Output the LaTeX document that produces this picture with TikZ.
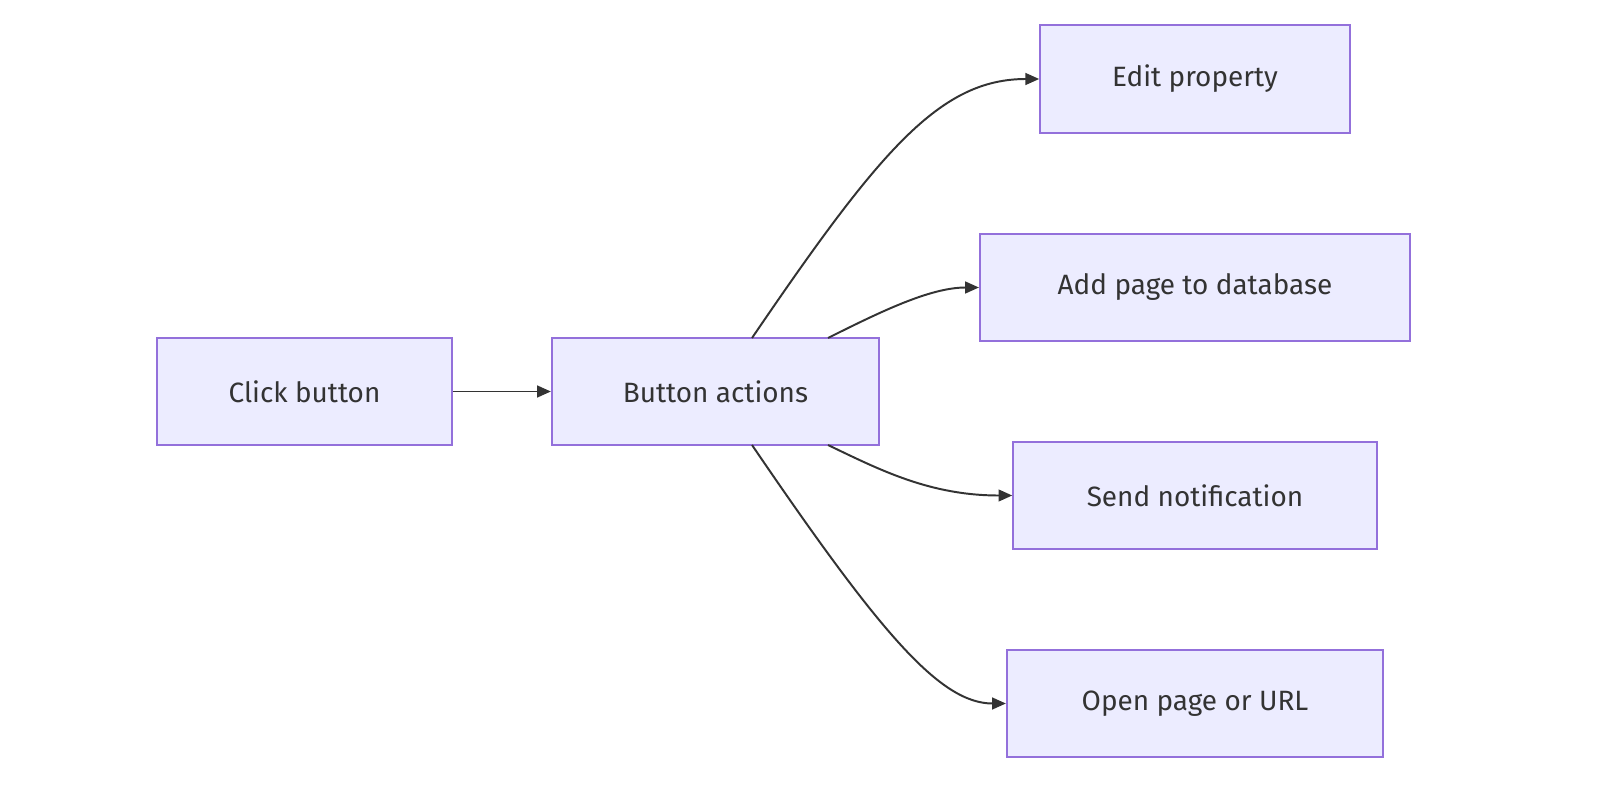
\documentclass[tikz,border=0pt]{standalone}
\usepackage{fontspec}
\setmainfont{Fira Sans}
\usetikzlibrary{arrows.meta}
\definecolor{nfill}{HTML}{ECECFF}
\definecolor{nline}{HTML}{9370DB}
\definecolor{eline}{HTML}{333333}
\begin{document}
\begin{tikzpicture}[x=1.0205pt,y=-1.0205pt,
  box/.style={draw=nline,fill=nfill,line width=2pt,minimum height=109pt,inner sep=0pt,font=\fontsize{28.5}{33}\selectfont,text=eline},
  edge/.style={draw=eline,line width=2pt,-{Triangle[length=14pt,width=12pt]}}]
\useasboundingbox (0,0) rectangle (1600,800);
\node[box,minimum width=301pt] (click) at (304.5,391.5) {Click button};
\node[box,minimum width=334pt] (actions) at (715.5,391.5) {Button actions};
\node[box,minimum width=316pt,minimum height=110pt] (edit) at (1195,79) {Edit property};
\node[box,minimum width=439pt] (add) at (1195,287.5) {Add page to database};
\node[box,minimum width=371pt] (send) at (1195,495.5) {Send notification};
\node[box,minimum width=384pt] (open) at (1195,703.5) {Open page or URL};
\coordinate (a1) at (752,338);
\coordinate (a2) at (828,338);
\coordinate (a3) at (828,445);
\coordinate (a4) at (752,445);
\draw[edge] (click) -- (actions);
\draw[edge] (a1) .. controls (880,150) and (940,79) .. (edit.west);
\draw[edge] (a2) .. controls (880,312) and (930,287.5) .. (add.west);
\draw[edge] (a3) .. controls (880,470) and (930,495.5) .. (send.west);
\draw[edge] (a4) .. controls (880,633) and (940,703.5) .. (open.west);
\end{tikzpicture}
\end{document}
